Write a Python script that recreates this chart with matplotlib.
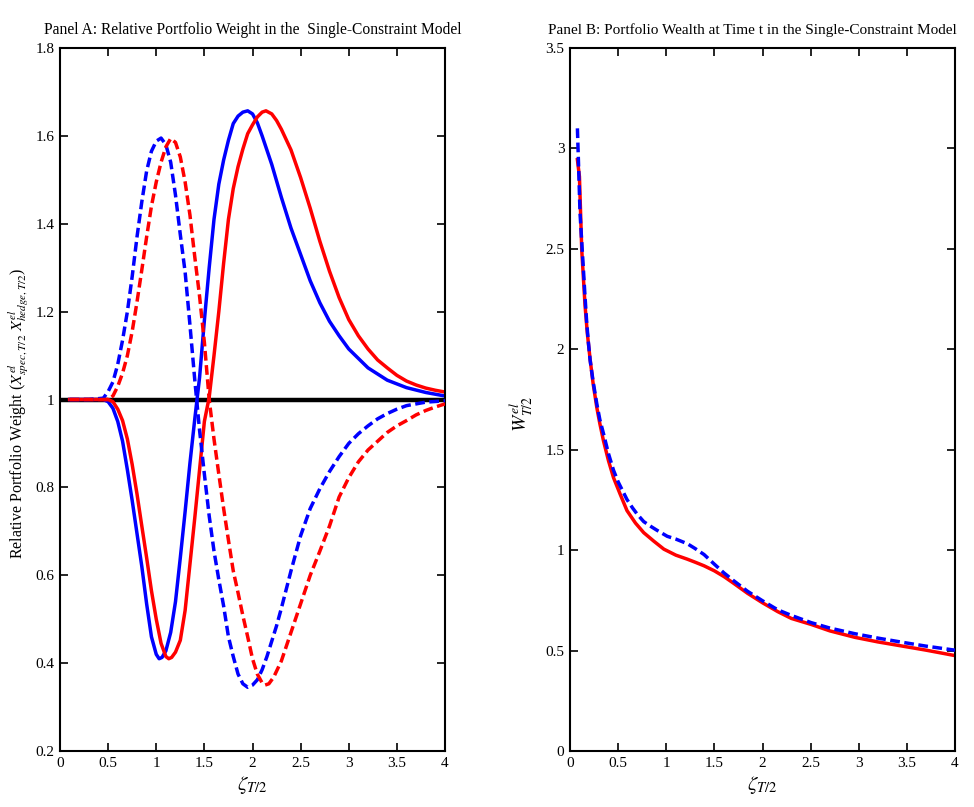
import matplotlib
matplotlib.use("Agg")
import matplotlib.pyplot as plt
from matplotlib.ticker import FuncFormatter

plt.rcParams['font.family'] = ['Liberation Serif', 'DejaVu Serif']
plt.rcParams['mathtext.fontset'] = 'stix'

# ---------------- Panel A data ----------------
blue_solid_x = [0.1, 0.3, 0.45, 0.5, 0.55, 0.6, 0.65, 0.7, 0.75, 0.8, 0.85, 0.9, 0.95, 1.0, 1.03, 1.06, 1.1,
                1.15, 1.2, 1.25, 1.3, 1.35, 1.4, 1.45, 1.5, 1.55, 1.6, 1.65, 1.7, 1.75, 1.8, 1.85, 1.9, 1.95,
                2.0, 2.05, 2.1, 2.2, 2.3, 2.4, 2.5, 2.6, 2.7, 2.8, 2.9, 3.0, 3.2, 3.4, 3.6, 3.8, 4.0]
blue_solid_y = [1.0, 1.0, 1.0, 0.995, 0.98, 0.95, 0.905, 0.84, 0.77, 0.695, 0.62, 0.535, 0.46, 0.42, 0.41, 0.413,
                0.428, 0.47, 0.54, 0.64, 0.745, 0.855, 0.955, 1.05, 1.18, 1.3, 1.41, 1.49, 1.545, 1.59, 1.628,
                1.645, 1.654, 1.657, 1.65, 1.63, 1.6, 1.535, 1.46, 1.39, 1.33, 1.27, 1.22, 1.178, 1.145, 1.115,
                1.072, 1.044, 1.027, 1.016, 1.008]

red_solid_x = [0.1, 0.3, 0.5, 0.55, 0.6, 0.65, 0.7, 0.75, 0.8, 0.85, 0.9, 0.95, 1.0, 1.05, 1.1, 1.13, 1.16, 1.2,
               1.25, 1.3, 1.35, 1.4, 1.45, 1.5, 1.55, 1.6, 1.65, 1.7, 1.75, 1.8, 1.85, 1.9, 1.95, 2.0, 2.05, 2.1,
               2.14, 2.2, 2.25, 2.3, 2.4, 2.5, 2.6, 2.7, 2.8, 2.9, 3.0, 3.1, 3.2, 3.3, 3.4, 3.5, 3.6, 3.7, 3.8,
               3.9, 4.0]
red_solid_y = [1.0, 1.0, 1.0, 0.995, 0.978, 0.952, 0.91, 0.852, 0.785, 0.712, 0.64, 0.565, 0.5, 0.445, 0.415,
               0.41, 0.413, 0.425, 0.452, 0.52, 0.625, 0.73, 0.84, 0.95, 1.005, 1.1, 1.2, 1.31, 1.41, 1.48, 1.53,
               1.57, 1.605, 1.625, 1.643, 1.654, 1.657, 1.65, 1.635, 1.615, 1.568, 1.505, 1.435, 1.36, 1.292,
               1.232, 1.182, 1.145, 1.115, 1.09, 1.072, 1.055, 1.042, 1.033, 1.026, 1.021, 1.017]

blue_dash_x = [0.1, 0.3, 0.45, 0.5, 0.55, 0.6, 0.65, 0.7, 0.75, 0.8, 0.85, 0.9, 0.95, 1.0, 1.05, 1.1, 1.15,
               1.2, 1.25, 1.3, 1.35, 1.4, 1.45, 1.5, 1.55, 1.6, 1.65, 1.7, 1.75, 1.8, 1.85, 1.9, 1.95, 2.0,
               2.05, 2.1, 2.15, 2.2, 2.25, 2.3, 2.4, 2.5, 2.6, 2.7, 2.8, 2.9, 3.0, 3.1, 3.2, 3.3, 3.4, 3.5,
               3.6, 3.8, 4.0]
blue_dash_y = [1.0, 1.0, 1.003, 1.018, 1.04, 1.08, 1.135, 1.2, 1.28, 1.37, 1.45, 1.52, 1.565, 1.588, 1.595,
               1.58, 1.54, 1.465, 1.375, 1.29, 1.17, 1.045, 0.93, 0.83, 0.735, 0.655, 0.59, 0.53, 0.46, 0.415,
               0.375, 0.353, 0.345, 0.35, 0.362, 0.385, 0.415, 0.45, 0.485, 0.525, 0.61, 0.69, 0.752, 0.797,
               0.836, 0.87, 0.9, 0.922, 0.94, 0.956, 0.968, 0.978, 0.986, 0.994, 0.997]

red_dash_x = [0.1, 0.3, 0.5, 0.55, 0.6, 0.65, 0.7, 0.75, 0.8, 0.85, 0.9, 0.95, 1.0, 1.05, 1.1, 1.15, 1.2, 1.25,
              1.3, 1.35, 1.4, 1.45, 1.5, 1.55, 1.6, 1.65, 1.7, 1.75, 1.8, 1.85, 1.9, 1.95, 2.0, 2.05, 2.1, 2.13,
              2.17, 2.22, 2.3, 2.4, 2.5, 2.6, 2.7, 2.8, 2.9, 3.0, 3.1, 3.2, 3.3, 3.4, 3.5, 3.6, 3.7, 3.8, 3.9,
              4.0]
red_dash_y = [1.0, 1.0, 1.0, 1.008, 1.03, 1.06, 1.1, 1.155, 1.222, 1.295, 1.37, 1.44, 1.495, 1.54, 1.575,
              1.594, 1.585, 1.552, 1.495, 1.42, 1.325, 1.235, 1.13, 1.0, 0.91, 0.83, 0.752, 0.68, 0.61, 0.56,
              0.508, 0.46, 0.41, 0.375, 0.355, 0.35, 0.353, 0.368, 0.405, 0.47, 0.535, 0.6, 0.655, 0.712, 0.778,
              0.822, 0.858, 0.885, 0.905, 0.925, 0.94, 0.952, 0.965, 0.975, 0.983, 0.99]

ref_x = [0.0, 4.0]
ref_y = [1.0, 1.0]

# ---------------- Panel B data ----------------
wealth_dash_x = [0.077, 0.09, 0.104, 0.12, 0.139, 0.155, 0.174, 0.19, 0.209, 0.24, 0.279, 0.31, 0.348, 0.4,
                 0.452, 0.5, 0.592, 0.65, 0.7, 0.766, 0.85, 0.9, 1.01, 1.1, 1.219, 1.3, 1.393, 1.5, 1.601, 1.7,
                 1.845, 2.0, 2.158, 2.3, 2.506, 2.7, 2.959, 3.2, 3.481, 3.7, 4.0]
wealth_dash_y = [3.10, 2.90, 2.68, 2.55, 2.40, 2.27, 2.13, 2.04, 1.946, 1.84, 1.727, 1.65, 1.58, 1.48, 1.398,
                 1.34, 1.252, 1.21, 1.178, 1.142, 1.115, 1.10, 1.069, 1.055, 1.032, 1.008, 0.978, 0.93, 0.886,
                 0.848, 0.795, 0.748, 0.703, 0.675, 0.639, 0.612, 0.584, 0.562, 0.539, 0.522, 0.502]

wealth_solid_x = [0.077, 0.098, 0.122, 0.156, 0.18, 0.209, 0.24, 0.279, 0.31, 0.348, 0.4, 0.452, 0.52, 0.592,
                  0.68, 0.766, 0.87, 0.975, 1.1, 1.219, 1.3, 1.393, 1.5, 1.601, 1.7, 1.845, 2.0, 2.158, 2.3,
                  2.506, 2.7, 2.959, 3.2, 3.481, 3.7, 4.0]
wealth_solid_y = [2.944, 2.86, 2.495, 2.22, 2.08, 1.95, 1.83, 1.709, 1.63, 1.544, 1.445, 1.361, 1.28, 1.197,
                  1.135, 1.087, 1.045, 1.005, 0.975, 0.955, 0.94, 0.922, 0.897, 0.868, 0.835, 0.785, 0.738,
                  0.694, 0.66, 0.63, 0.598, 0.566, 0.543, 0.52, 0.502, 0.475]

xticks = [0, 0.5, 1, 1.5, 2, 2.5, 3, 3.5, 4]
yticks_a = [0.2, 0.4, 0.6, 0.8, 1.0, 1.2, 1.4, 1.6, 1.8]
yticks_b = [0, 0.5, 1, 1.5, 2, 2.5, 3, 3.5]

W, H = 974, 807
fig = plt.figure(figsize=(W / 100, H / 100), dpi=100)
axA = fig.add_axes([60 / W, 1 - 751 / H, 385 / W, (751 - 48) / H])
axB = fig.add_axes([570 / W, 1 - 751 / H, 385 / W, (751 - 48) / H])

fmt = FuncFormatter(lambda v, p: ('%g' % round(v, 4)))
lw = 2.5
dash = (0, (2.8, 1.3))

axA.plot(ref_x, ref_y, color='black', lw=3.2, zorder=1)
axA.plot(blue_solid_x, blue_solid_y, color='#0000ff', lw=lw, zorder=2)
axA.plot(red_solid_x, red_solid_y, color='#ff0000', lw=lw, zorder=2)
axA.plot(blue_dash_x, blue_dash_y, color='#0000ff', lw=lw, ls=dash, zorder=3)
axA.plot(red_dash_x, red_dash_y, color='#ff0000', lw=lw, ls=dash, zorder=3)
axA.set_xlim(0, 4)
axA.set_ylim(0.2, 1.8)
axA.set_yticks(yticks_a)
axA.set_title('Panel A: Relative Portfolio Weight in the  Single-Constraint Model', fontsize=11.2, pad=10)
axA.set_ylabel(r'Relative Portfolio Weight ($X^{el}_{spec,T/2}$ $X^{el}_{hedge,T/2}$)', fontsize=11.5)
axA.yaxis.set_label_coords(-0.075, 0.48)

axB.plot(wealth_dash_x, wealth_dash_y, color='#0000ff', lw=lw, ls=dash, zorder=3)
axB.plot(wealth_solid_x, wealth_solid_y, color='#ff0000', lw=lw, zorder=2)
axB.set_xlim(0, 4)
axB.set_ylim(0, 3.5)
axB.set_yticks(yticks_b)
axB.set_title('Panel B: Portfolio Wealth at Time t in the Single-Constraint Model', fontsize=11, pad=10, x=0.475)
axB.set_ylabel(r'$W^{el}_{T/2}$', fontsize=14)
axB.yaxis.set_label_coords(-0.09, 0.48)

for ax in (axA, axB):
    ax.set_xticks(xticks)
    ax.xaxis.set_major_formatter(fmt)
    ax.yaxis.set_major_formatter(fmt)
    ax.tick_params(direction='in', top=True, right=True, length=6, width=1.2, labelsize=11, pad=4)
    for s in ax.spines.values():
        s.set_linewidth(1.5)
    ax.set_xlabel(r'$\zeta_{T/2}$', fontsize=15, labelpad=3)

fig.savefig('out.png', dpi=100, facecolor='white')
